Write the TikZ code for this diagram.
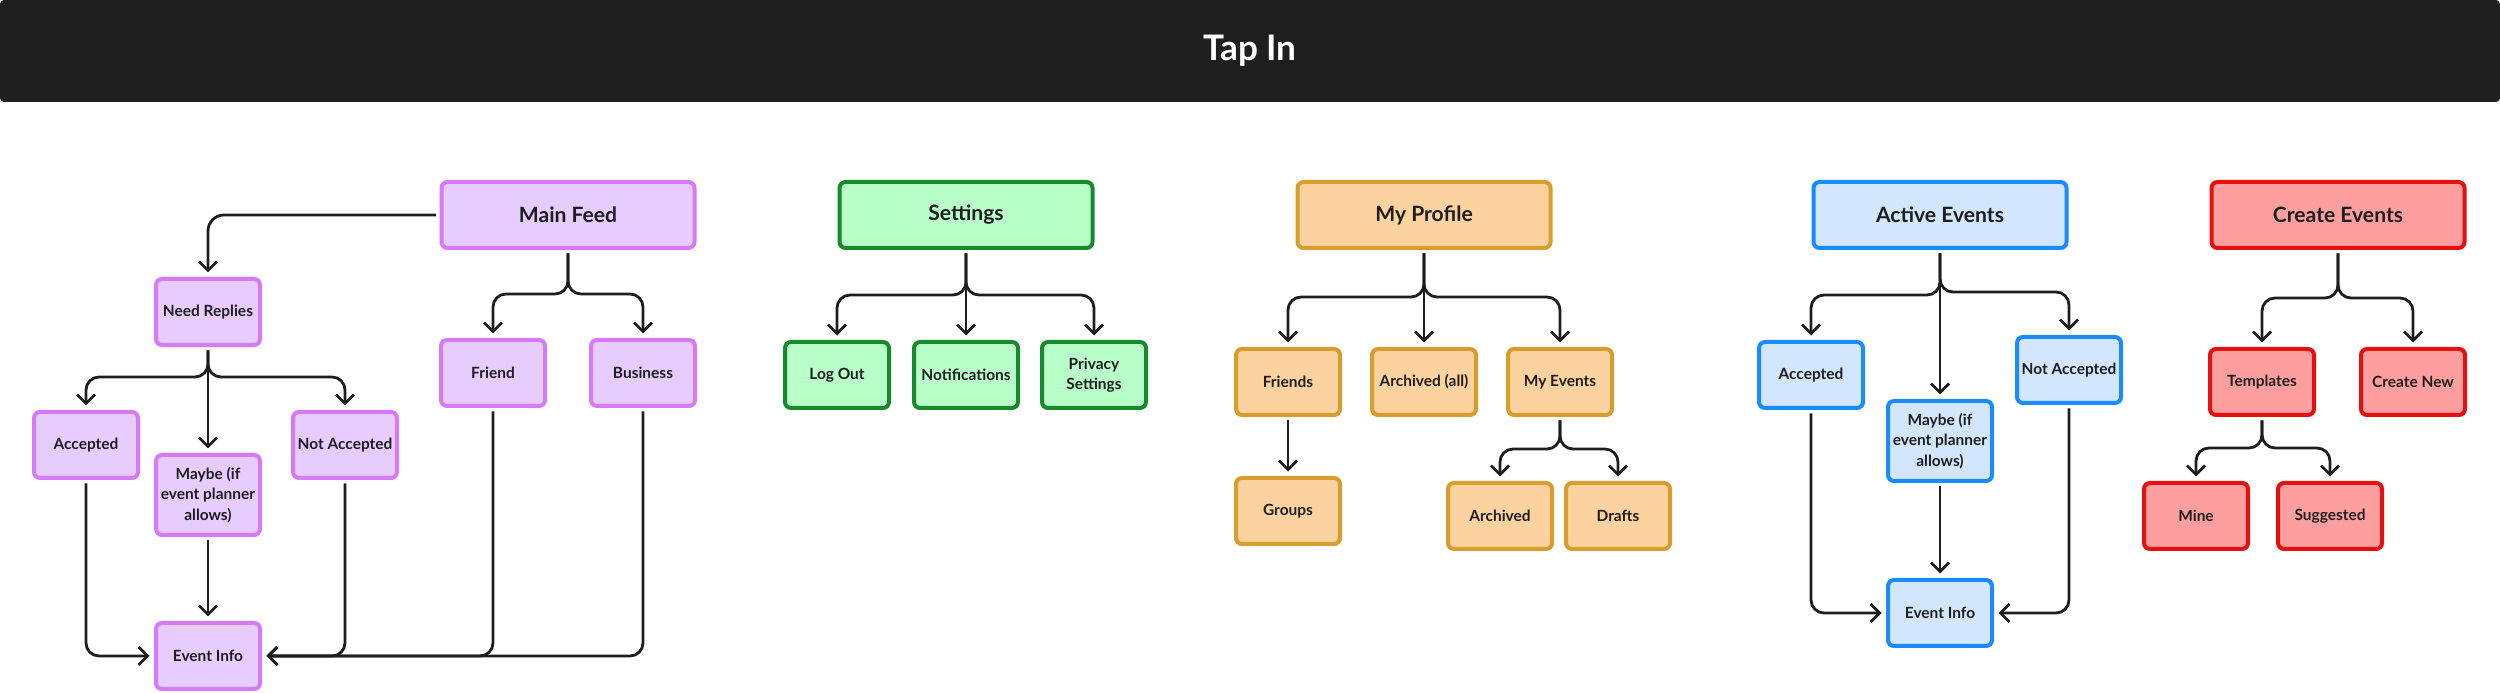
\documentclass[tikz,border=0pt]{standalone}
\usepackage{fontspec}
\setmainfont{Lato}
\usetikzlibrary{arrows.meta,positioning,calc}

\definecolor{barbg}{HTML}{1F1F1F}
\definecolor{ink}{HTML}{1E1E1E}
\definecolor{feedln}{HTML}{D67AF7}
\definecolor{feedbg}{HTML}{E6CCFF}
\definecolor{settln}{HTML}{188A2C}
\definecolor{settbg}{HTML}{B8FFCA}
\definecolor{profln}{HTML}{D99C2E}
\definecolor{profbg}{HTML}{FCD39E}
\definecolor{actvln}{HTML}{1A8CFF}
\definecolor{actvbg}{HTML}{D2E7FD}
\definecolor{crealn}{HTML}{E51010}
\definecolor{creabg}{HTML}{FF9E9E}

\begin{document}
\begin{tikzpicture}[x=0.1mm, y=-0.1mm,
  >={Straight Barb[length=0.9mm,width=1.8mm]},
  bar/.style={fill=barbg, text=white, rounded corners=0.4mm, minimum width=250mm,
    minimum height=10.2mm, inner sep=0pt, font=\fontsize{10}{12}\selectfont\bfseries},
  big/.style={line width=0.4mm, rounded corners=0.6mm, minimum width=25.3mm,
    minimum height=6.6mm, inner sep=0pt, text=ink, font=\fontsize{6}{7}\selectfont\bfseries},
  box/.style={line width=0.4mm, rounded corners=0.6mm, minimum width=10.4mm,
    minimum height=6.6mm, inner sep=0pt, align=center, text=ink,
    font=\fontsize{4.4}{5.8}\selectfont\bfseries},
  tall/.style={box, minimum height=8mm},
  feed/.style={draw=feedln, fill=feedbg},
  sett/.style={draw=settln, fill=settbg},
  prof/.style={draw=profln, fill=profbg},
  actv/.style={draw=actvln, fill=actvbg},
  crea/.style={draw=crealn, fill=creabg},
  conn/.style={->, draw=ink, line width=0.28mm, rounded corners=1.3mm,
    shorten <=0.35mm, shorten >=0.45mm},
]
\useasboundingbox (0,0) rectangle (2500,693);

% ============================ Title bar ============================
\node[bar] (ttl) at (1250,51) {Tap In};

% ============================ Main Feed ============================
\node[big, feed] (mf) at (568,215) {Main Feed};
\node[box, feed] (nr) at (208,312) {Need Replies};
\node[box, feed] (acc) at (86,445) {Accepted};
\node[tall, feed] (mb) at (208,495) {Maybe (if\\event planner\\allows)};
\node[box, feed] (na) at (345,445) {Not Accepted};
\node[box, feed] (ei) at (208,656) {Event Info};
\node[box, feed] (fr) at (493,373) {Friend};
\node[box, feed] (bu) at (643,373) {Business};

\draw[conn, rounded corners=1.6mm] (mf.west) -| (nr.north);
\draw[conn] (mf.south) -- ++(0,44) -| (fr.north);
\draw[conn] (mf.south) -- ++(0,44) -| (bu.north);
\draw[conn] (nr.south) -- ++(0,30) -| (acc.north);
\draw[conn] (nr.south) -- (mb.north);
\draw[conn] (nr.south) -- ++(0,30) -| (na.north);
\draw[conn] (acc.south) |- (ei.west);
\draw[conn] (mb.south) -- (ei.north);
\draw[conn] (na.south) |- (ei.east);
\draw[conn] (fr.south) |- (ei.east);
\draw[conn] (bu.south) |- (ei.east);

% ============================= Settings ============================
\node[big, sett] (st) at (966,215) {Settings};
\node[box, sett] (lo) at (837,375) {Log Out};
\node[box, sett] (no) at (966,375) {Notifications};
\node[box, sett] (ps) at (1094,375) {Privacy\\Settings};

\draw[conn] (st.south) -- ++(0,45) -| (lo.north);
\draw[conn] (st.south) -- (no.north);
\draw[conn] (st.south) -- ++(0,45) -| (ps.north);

% ============================ My Profile ===========================
\node[big, prof] (mp) at (1424,215) {My Profile};
\node[box, prof] (fs) at (1288,382) {Friends};
\node[box, prof] (aa) at (1424,382) {Archived (all)};
\node[box, prof] (me) at (1560,382) {My Events};
\node[box, prof] (gr) at (1288,511) {Groups};
\node[box, prof] (ar) at (1500,516) {Archived};
\node[box, prof] (dr) at (1618,516) {Drafts};

\draw[conn] (mp.south) -- ++(0,47) -| (fs.north);
\draw[conn] (mp.south) -- (aa.north);
\draw[conn] (mp.south) -- ++(0,47) -| (me.north);
\draw[conn] (fs.south) -- (gr.north);
\draw[conn] (me.south) -- ++(0,32) -| (ar.north);
\draw[conn] (me.south) -- ++(0,32) -| (dr.north);

% =========================== Active Events =========================
\node[big, actv] (ae) at (1940,215) {Active Events};
\node[box, actv] (bacc) at (1811,375) {Accepted};
\node[tall, actv] (bmb) at (1940,441) {Maybe (if\\event planner\\allows)};
\node[box, actv] (bna) at (2069,370) {Not Accepted};
\node[box, actv] (bei) at (1940,613) {Event Info};

\draw[conn] (ae.south) -- ++(0,45) -| (bacc.north);
\draw[conn] (ae.south) -- (bmb.north);
\draw[conn] (ae.south) -- ++(0,42) -| (bna.north);
\draw[conn] (bacc.south) |- (bei.west);
\draw[conn] (bmb.south) -- (bei.north);
\draw[conn] (bna.south) |- (bei.east);

% =========================== Create Events =========================
\node[big, crea] (ce) at (2338,215) {Create Events};
\node[box, crea] (tp) at (2262,382) {Templates};
\node[box, crea] (cn) at (2413,382) {Create New};
\node[box, crea] (mi) at (2196,516) {Mine};
\node[box, crea] (su) at (2330,516) {Suggested};

\draw[conn] (ce.south) -- ++(0,48) -| (tp.north);
\draw[conn] (ce.south) -- ++(0,48) -| (cn.north);
\draw[conn] (tp.south) -- ++(0,31) -| (mi.north);
\draw[conn] (tp.south) -- ++(0,31) -| (su.north);

\end{tikzpicture}
\end{document}
